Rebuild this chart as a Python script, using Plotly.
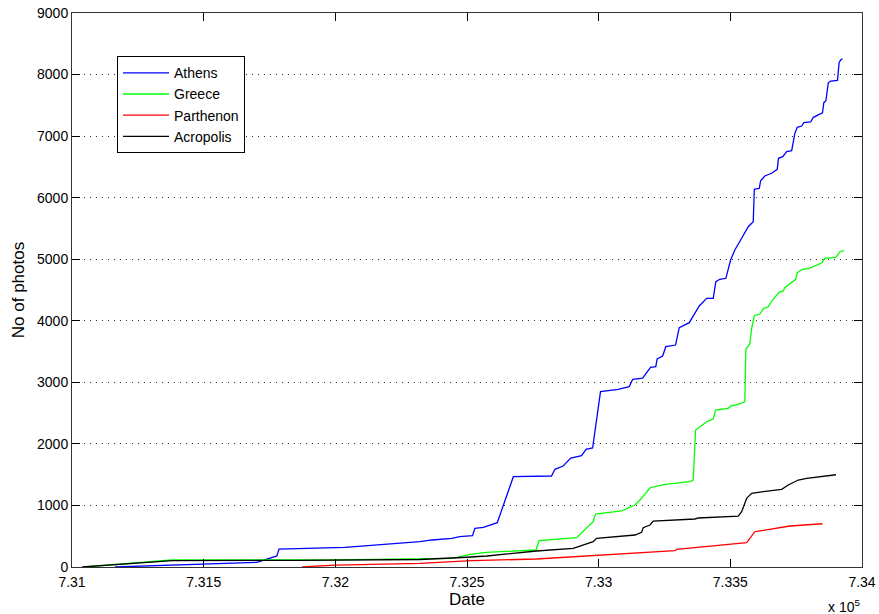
import plotly.graph_objects as go

# ---- data ----
athens_x = [731163, 731448, 731702, 731778, 731786, 732037, 732321, 732367, 732442, 732473,
            732521, 732530, 732562, 732615, 732676, 732821, 732834, 732865, 732894, 732935,
            732952, 732977, 733007, 733074, 733116, 733129, 733167, 733197, 733217, 733222,
            733243, 733255, 733292, 733306, 733344, 733382, 733410, 733435, 733445, 733460,
            733483, 733501, 733517, 733543, 733568, 733587, 733591, 733610, 733615, 733631,
            733657, 733678, 733683, 733699, 733714, 733733, 733745, 733754, 733771, 733779,
            733805, 733815, 733850, 733855, 733863, 733872, 733881, 733907, 733913, 733919,
            733926]
athens_y = [0, 40, 76, 179, 292, 320, 411, 439, 466, 492,
            508, 629, 645, 720, 1467, 1478, 1587, 1641, 1771, 1808,
            1912, 1933, 2848, 2887, 2929, 3049, 3070, 3244, 3254, 3379,
            3428, 3579, 3606, 3887, 3969, 4240, 4365, 4365, 4635, 4674,
            4690, 4987, 5150, 5340, 5528, 5609, 6136, 6152, 6275, 6352,
            6396, 6461, 6639, 6665, 6747, 6763, 7045, 7143, 7164, 7218,
            7229, 7305, 7380, 7543, 7575, 7867, 7895, 7906, 8192, 8236,
            8257]

greece_x = [731049, 731296, 731380, 731980, 732394, 732447, 732511, 732575, 732762, 732774,
            732916, 732935, 732979, 732988, 733087, 733138, 733163, 733195, 733252, 733347,
            733359, 733368, 733410, 733435, 733444, 733492, 733501, 733536, 733555, 733559,
            733574, 733581, 733591, 733612, 733627, 733644, 733657, 733686, 733701, 733707,
            733748, 733754, 733774, 733800, 733848, 733859, 733901, 733916, 733931]
greece_y = [0, 89, 114, 117, 141, 141, 206, 239, 276, 427,
            476, 557, 736, 861, 910, 1007, 1116, 1288, 1343, 1386,
            1413, 2226, 2360, 2404, 2550, 2578, 2615, 2648, 2685, 3537,
            3623, 3878, 4082, 4110, 4203, 4228, 4321, 4467, 4484, 4537,
            4674, 4781, 4836, 4852, 4943, 5015, 5031, 5122, 5138]

parthenon_x = [731873, 731999, 732321, 732519, 732764, 733005, 733290, 733296, 733562, 733593,
               733726, 733850]
parthenon_y = [0, 32, 60, 102, 130, 187, 265, 288, 395, 573,
               666, 703]

acropolis_x = [731038, 731380, 731866, 732321, 732499, 732575, 732764, 732903, 732929, 732979,
               732992, 733081, 733138, 733163, 733169, 733195, 733207, 733366, 733378, 733530,
               733543, 733562, 733581, 733625, 733695, 733720, 733758, 733790, 733901]
acropolis_y = [0, 102, 109, 122, 158, 179, 260, 304, 341, 411,
               466, 492, 520, 564, 638, 682, 747, 780, 796, 828,
               898, 1116, 1197, 1223, 1262, 1332, 1413, 1441, 1499]

x_tick_vals = [731000, 731500, 732000, 732500, 733000, 733500, 734000]
x_tick_text = ["7.31", "7.315", "7.32", "7.325", "7.33", "7.335", "7.34"]
y_tick_vals = [0, 1000, 2000, 3000, 4000, 5000, 6000, 7000, 8000, 9000]

series = [
    ("Athens", athens_x, athens_y, "#0000ff"),
    ("Greece", greece_x, greece_y, "#00ff00"),
    ("Parthenon", parthenon_x, parthenon_y, "#ff0000"),
    ("Acropolis", acropolis_x, acropolis_y, "#000000"),
]

fig = go.Figure()
for name, xs, ys, col in series:
    fig.add_trace(go.Scatter(x=xs, y=ys, mode="lines", name=name,
                             line=dict(color=col, width=1.3)))

font_family = "Liberation Sans, Arial, Helvetica, sans-serif"
fig.update_layout(
    width=879, height=614,
    margin=dict(l=72, r=17, t=13, b=47, autoexpand=False),
    paper_bgcolor="white", plot_bgcolor="white",
    font=dict(family=font_family, size=14, color="black"),
    showlegend=True,
    legend=dict(x=0.057, y=0.922, xanchor="left", yanchor="top",
                bgcolor="white", bordercolor="black", borderwidth=1,
                font=dict(size=14), tracegroupgap=0, itemwidth=46),
    xaxis=dict(range=[731000, 734000], tickvals=x_tick_vals, ticktext=x_tick_text,
               showgrid=False, zeroline=False, showline=True, linecolor="#333333",
               linewidth=1, mirror="ticks", ticks="inside", ticklen=8,
               tickcolor="black", automargin=False, ticklabelstandoff=2,
               title=dict(text="Date", standoff=2)),
    yaxis=dict(range=[0, 9000], tickvals=y_tick_vals,
               showgrid=True, gridcolor="#333333", griddash="1px,5px", gridwidth=1,
               zeroline=False, showline=True, linecolor="#333333",
               linewidth=1, mirror="ticks", ticks="inside", ticklen=8,
               tickcolor="black", automargin=False,
               title=dict(text="No of photos", standoff=8)),
    annotations=[dict(text="x 10<sup>5</sup>", xref="paper", yref="paper",
                      x=1.0, y=-0.05, xanchor="right", yanchor="top",
                      showarrow=False, font=dict(size=14))],
)

fig.write_html("out.html", config={"displayModeBar": False},
               post_script="document.body.style.margin='0';document.body.style.overflow='hidden';")
